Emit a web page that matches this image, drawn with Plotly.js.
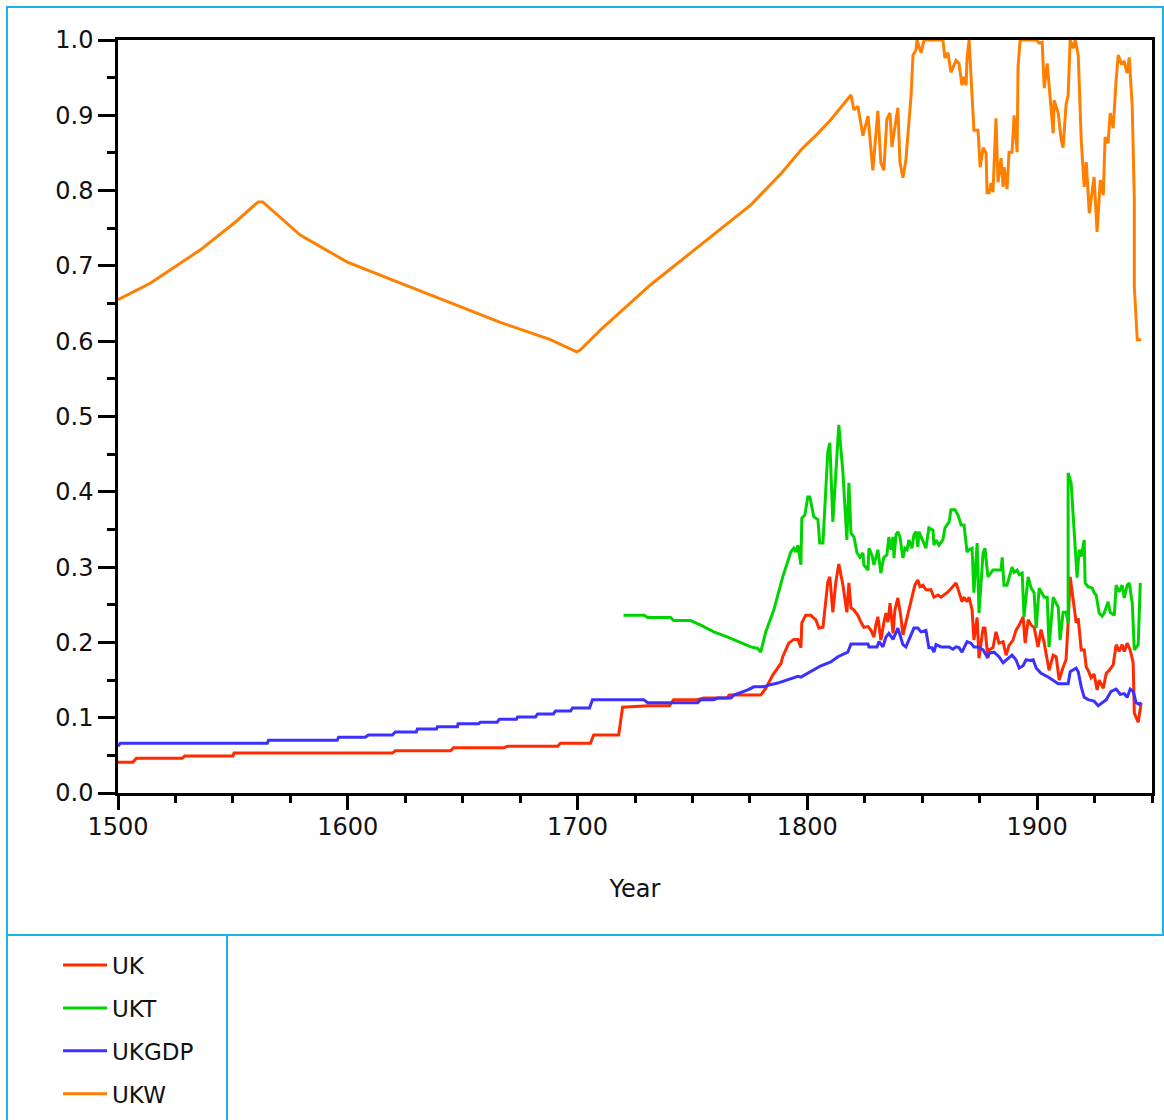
<!DOCTYPE html>
<html>
<head>
<meta charset="utf-8">
<script src="https://cdn.plot.ly/plotly-3.0.1.min.js"></script>
<style>
  html, body { margin: 0; padding: 0; background: #fff; }
  #wrap { position: relative; width: 1164px; height: 1120px; overflow: hidden; }
  #chart { position: absolute; left: 0; top: 0; width: 1164px; height: 1120px; }
  .cy { position: absolute; background: #1ab4e8; pointer-events: none; }
</style>
</head>
<body>
<div id="wrap">
  <div id="chart"></div>
  <div class="cy" style="left:6px; top:6px; width:1158px; height:2px;"></div>
  <div class="cy" style="left:6px; top:6px; width:2px; height:1114px;"></div>
  <div class="cy" style="left:1162px; top:6px; width:2px; height:930px;"></div>
  <div class="cy" style="left:6px; top:934px; width:1158px; height:2px;"></div>
  <div class="cy" style="left:226px; top:934px; width:2px; height:186px;"></div>
</div>
<script>
// ---- data ----
const seriesNames = ["UK", "UKT", "UKGDP", "UKW"];

const ukYears = [1500,1506.5,1508,1528,1529,1550,1550.5,1619.4,1620.7,1644.7,1646,1667.8,1669.5,1691.3,1692.6,1705.6,1707,1717.9,1719.6,1731,1740,1741.8,1752,1754.9,1765,1766,1779.7,1781.9,1785,1788.5,1789.3,1791.9,1794.1,1795.9,1797.2,1797.6,1799.3,1801.5,1803.7,1805,1806.8,1808.9,1809.8,1811.1,1812.4,1813.7,1815.5,1815.9,1817.2,1818.1,1819,1820.3,1822,1823.3,1824.6,1826.4,1827.7,1829,1829.8,1830.7,1832,1833.3,1834.2,1835.1,1836,1837.3,1838.1,1839.4,1840.7,1841.6,1842.9,1844.2,1846,1846.8,1848.1,1849,1850.3,1851.6,1853.8,1855.1,1856.9,1858.2,1861.2,1863.4,1864.7,1866,1867.3,1868.2,1869.5,1870.4,1871.7,1872.5,1873.9,1874.7,1876.5,1877.3,1878.6,1879.1,1880.8,1882.1,1883.4,1885.2,1886.5,1887.8,1889.5,1890.8,1892.2,1893.9,1894.8,1896.1,1897.4,1898.7,1900.4,1901.7,1903.1,1905.2,1907,1908.3,1909.6,1911.3,1912.6,1913.5,1914.4,1916.1,1917,1917.9,1919.2,1920.5,1921.4,1922.2,1923.5,1924.8,1926.1,1927,1928.8,1930.1,1931.4,1933.1,1934.4,1935.7,1937,1937.9,1939.2,1940.5,1941.8,1942.3,1944,1945.3];
const ukValues = [0.041,0.041,0.046,0.046,0.049,0.049,0.053,0.053,0.056,0.056,0.060,0.060,0.062,0.062,0.066,0.066,0.077,0.077,0.114,0.116,0.116,0.124,0.124,0.126,0.126,0.130,0.130,0.139,0.157,0.172,0.181,0.199,0.204,0.204,0.193,0.226,0.236,0.236,0.230,0.219,0.220,0.280,0.287,0.240,0.280,0.304,0.276,0.266,0.240,0.279,0.246,0.243,0.236,0.227,0.220,0.221,0.216,0.207,0.223,0.234,0.203,0.226,0.239,0.227,0.252,0.212,0.243,0.259,0.234,0.210,0.226,0.243,0.263,0.276,0.283,0.274,0.276,0.270,0.270,0.260,0.263,0.260,0.267,0.274,0.279,0.267,0.254,0.260,0.254,0.260,0.243,0.203,0.233,0.179,0.219,0.219,0.179,0.190,0.193,0.214,0.199,0.201,0.183,0.196,0.203,0.216,0.223,0.234,0.199,0.230,0.223,0.220,0.194,0.217,0.199,0.163,0.183,0.181,0.150,0.167,0.177,0.226,0.287,0.247,0.226,0.232,0.190,0.190,0.167,0.163,0.153,0.158,0.137,0.150,0.139,0.159,0.163,0.170,0.197,0.188,0.197,0.188,0.199,0.190,0.173,0.106,0.094,0.120];

const uktYears = [1720,1729,1730.5,1740.5,1741.8,1749.2,1753.6,1759.3,1765.4,1771,1775.4,1778.4,1779.7,1781.9,1785.4,1789.3,1792.8,1794.1,1795,1795.9,1797.2,1797.6,1798.9,1800.2,1801.1,1802.8,1804.6,1805.4,1806.8,1808.9,1809.8,1811.1,1812.4,1813.7,1815.5,1815.9,1817.2,1818.1,1819,1820.3,1821.6,1822.9,1824.2,1824.6,1826.4,1826.8,1828.1,1829,1829.8,1830.7,1832,1833.3,1834.6,1835.5,1836.4,1837.3,1837.7,1838.6,1839.4,1840.3,1841.6,1842.5,1843.4,1844.2,1845.5,1846.4,1847.3,1848.1,1848.6,1850.3,1851.6,1852.9,1854.7,1855.1,1856,1857.3,1859,1859.9,1861.7,1862.5,1864.3,1865.6,1866.9,1868.2,1869.5,1870.4,1871.7,1872.5,1873.9,1874.7,1876.5,1877.3,1878.6,1880.8,1884.3,1884.8,1885.6,1886.9,1889.1,1890,1891.3,1892.2,1893.5,1894.3,1896.1,1897.4,1898.7,1899.6,1900.9,1903.1,1904.4,1905.2,1907,1908.3,1909.2,1910,1911.3,1912.6,1913.5,1913.5,1914.8,1917.4,1918.3,1919.2,1920.5,1920.9,1922.2,1924,1924.8,1925.7,1927,1928.3,1929.2,1930.9,1931.8,1933.6,1934.4,1935.7,1937,1937.9,1939.2,1940.1,1941.4,1942.3,1944,1944.9];
const uktValues = [0.236,0.236,0.233,0.233,0.229,0.229,0.223,0.214,0.207,0.200,0.194,0.192,0.187,0.214,0.243,0.287,0.320,0.325,0.320,0.329,0.303,0.365,0.369,0.393,0.393,0.367,0.363,0.332,0.332,0.453,0.465,0.360,0.433,0.489,0.425,0.402,0.336,0.412,0.345,0.340,0.319,0.313,0.319,0.303,0.296,0.325,0.316,0.303,0.313,0.323,0.292,0.313,0.316,0.340,0.323,0.340,0.312,0.343,0.347,0.340,0.312,0.325,0.323,0.336,0.325,0.343,0.347,0.327,0.347,0.333,0.325,0.352,0.349,0.329,0.336,0.329,0.336,0.352,0.360,0.376,0.376,0.369,0.356,0.356,0.320,0.323,0.325,0.266,0.332,0.239,0.319,0.325,0.287,0.296,0.296,0.313,0.276,0.276,0.300,0.293,0.296,0.290,0.292,0.234,0.287,0.272,0.266,0.219,0.272,0.260,0.260,0.194,0.260,0.252,0.247,0.203,0.240,0.240,0.226,0.425,0.412,0.286,0.323,0.314,0.336,0.279,0.274,0.272,0.266,0.263,0.239,0.235,0.239,0.254,0.240,0.236,0.276,0.267,0.276,0.259,0.276,0.279,0.252,0.190,0.197,0.279];

const ukgdpYears = [1500,1501,1565,1565.5,1595.4,1596,1607.6,1609,1619.4,1620.7,1629.8,1630.3,1638.6,1639,1647.7,1648,1656.9,1657.7,1665,1666,1673.4,1673.9,1681.7,1682.6,1689.5,1690.4,1697,1697.8,1705.2,1706.5,1728.8,1730.5,1752.3,1753.6,1759.3,1761,1766.7,1768,1774.1,1776.7,1781,1782.8,1787.1,1791.5,1795.9,1797.2,1801.5,1805.9,1810.2,1813.3,1817.6,1819,1826.4,1826.8,1830.3,1831.2,1832.9,1834.2,1835.5,1837.3,1839.4,1841.6,1842.9,1844.2,1846.4,1848.1,1849.5,1851.6,1852.9,1854.2,1855.1,1856,1858.2,1861.7,1863.4,1864.7,1866,1867.3,1868.2,1869.5,1871.2,1872.5,1874.3,1876.5,1878.2,1879.5,1881.3,1883.4,1885.2,1886.9,1889.1,1890.8,1892.2,1893.9,1895.2,1896.9,1898.3,1899.6,1901.7,1904.8,1907,1909.2,1913.5,1914.4,1917,1917.9,1919.2,1920.5,1922.2,1924.8,1926.6,1928.3,1930.1,1932.2,1934.4,1936.2,1937.9,1939.2,1940.5,1941.8,1943.1,1944.4,1945.3];
const ukgdpValues = [0.062,0.066,0.066,0.070,0.070,0.074,0.074,0.077,0.077,0.081,0.081,0.085,0.085,0.088,0.088,0.092,0.092,0.094,0.094,0.098,0.098,0.101,0.101,0.105,0.105,0.109,0.109,0.113,0.113,0.124,0.124,0.120,0.120,0.124,0.124,0.126,0.126,0.130,0.137,0.141,0.141,0.143,0.146,0.151,0.155,0.154,0.161,0.169,0.174,0.181,0.187,0.198,0.198,0.194,0.194,0.201,0.194,0.207,0.212,0.204,0.219,0.197,0.194,0.203,0.219,0.219,0.214,0.216,0.193,0.193,0.187,0.197,0.194,0.194,0.191,0.194,0.193,0.187,0.193,0.201,0.199,0.194,0.194,0.190,0.181,0.186,0.187,0.181,0.173,0.177,0.183,0.177,0.166,0.169,0.177,0.176,0.177,0.166,0.159,0.154,0.150,0.145,0.145,0.161,0.166,0.161,0.141,0.127,0.124,0.122,0.116,0.120,0.124,0.135,0.138,0.131,0.132,0.127,0.138,0.135,0.120,0.118,0.120];

const ukwYears = [1500,1514,1535.7,1551,1561,1563,1579.3,1599.8,1622.9,1644.7,1666.4,1688.2,1699.6,1701,1710,1731.8,1753.6,1775.4,1788.7,1793,1797.2,1804.6,1810.2,1819,1820.3,1822,1824.2,1826.4,1828.5,1830.7,1832,1833.3,1834.6,1836,1836.8,1839.4,1840.3,1841.6,1842.9,1845.1,1846,1847.3,1847.7,1849.5,1850.8,1859,1859.9,1861.2,1862.5,1864.7,1866,1867.3,1868.2,1869.1,1869.5,1870.4,1872.5,1874.3,1875.2,1876.5,1877.8,1878.2,1879.1,1880,1880.8,1882.1,1883,1884.3,1885.2,1885.6,1886.9,1887.8,1889.1,1890,1891.3,1891.7,1892.6,1899.6,1900.9,1902.2,1903.1,1904.4,1907,1907.4,1909.2,1910.5,1911.3,1912.6,1913.5,1914.4,1915.7,1916.6,1917.9,1919.2,1920.5,1921.4,1922.7,1924.8,1926.1,1927.5,1928.8,1929.6,1930.9,1931.8,1933.1,1934.4,1935.3,1936.6,1937.9,1939.2,1940.1,1941.4,1942.3,1942.3,1943.6,1945.3];
const ukwValues = [0.655,0.677,0.721,0.758,0.785,0.785,0.741,0.705,0.677,0.651,0.625,0.602,0.586,0.588,0.615,0.675,0.728,0.781,0.823,0.838,0.854,0.876,0.894,0.927,0.907,0.912,0.873,0.899,0.827,0.906,0.837,0.827,0.895,0.903,0.858,0.910,0.838,0.817,0.841,0.924,0.980,0.987,1.0,0.983,1.0,1.0,0.976,0.983,0.957,0.973,0.969,0.940,0.951,0.940,0.976,1.0,0.880,0.880,0.831,0.857,0.850,0.797,0.797,0.810,0.798,0.896,0.811,0.843,0.805,0.831,0.802,0.851,0.851,0.900,0.851,0.964,1.0,1.0,0.996,0.997,0.936,0.969,0.876,0.920,0.903,0.867,0.857,0.914,0.927,1.0,0.989,1.0,0.980,0.867,0.805,0.838,0.770,0.818,0.745,0.814,0.794,0.871,0.863,0.903,0.883,0.947,0.980,0.969,0.971,0.956,0.977,0.911,0.788,0.672,0.602,0.602];

const colors = ["#ff2a00", "#00d400", "#3b30ff", "#ff8000"];

const xs = [ukYears, uktYears, ukgdpYears, ukwYears];
const ys = [ukValues, uktValues, ukgdpValues, ukwValues];

const traces = seriesNames.map((n, i) => ({
  type: "scatter",
  mode: "lines",
  name: n,
  x: xs[i],
  y: ys[i],
  legendgroup: n,
  line: { color: colors[i], width: 3 },
  hoverinfo: "x+y+name"
}));

const FONT = "DejaVu Sans, Verdana, sans-serif";

const layout = {
  width: 1164,
  height: 1120,
  margin: { l: 118, r: 12, t: 40, b: 327, pad: 0 },
  paper_bgcolor: "#ffffff",
  plot_bgcolor: "#ffffff",
  font: { family: FONT, size: 24, color: "#111" },
  showlegend: true,
  legend: {
    xref: "paper", x: -0.0580, xanchor: "left",
    yref: "container", y: 0.1575, yanchor: "top",
    font: { family: FONT, size: 23, color: "#111" },
    bgcolor: "rgba(0,0,0,0)",
    tracegroupgap: 10,
    itemwidth: 44,
    traceorder: "grouped"
  },
  xaxis: {
    range: [1500, 1950],
    tick0: 1500, dtick: 100,
    ticks: "outside", ticklen: 14, tickwidth: 2.5, tickcolor: "#000",
    minor: { dtick: 25, ticks: "outside", ticklen: 7, tickwidth: 2.5, tickcolor: "#000" },
    showline: true, linewidth: 2.5, linecolor: "#000", mirror: true,
    showgrid: false, zeroline: false,
    automargin: false,
    ticklabelstandoff: -4,
    tickfont: { family: FONT, size: 24, color: "#111" },
    title: { text: "Year", font: { family: FONT, size: 24, color: "#111" }, standoff: 41 }
  },
  yaxis: {
    range: [0, 1],
    tick0: 0, dtick: 0.1, tickformat: ".1f",
    ticks: "outside", ticklen: 17, tickwidth: 2.5, tickcolor: "#000",
    minor: { dtick: 0.05, ticks: "outside", ticklen: 8, tickwidth: 2.5, tickcolor: "#000" },
    showline: true, linewidth: 2.5, linecolor: "#000", mirror: true,
    showgrid: false, zeroline: false,
    automargin: false,
    tickfont: { family: FONT, size: 24, color: "#111" }
  }
};

Plotly.newPlot("chart", traces, layout, { displayModeBar: false, responsive: false });
</script>
</body>
</html>
